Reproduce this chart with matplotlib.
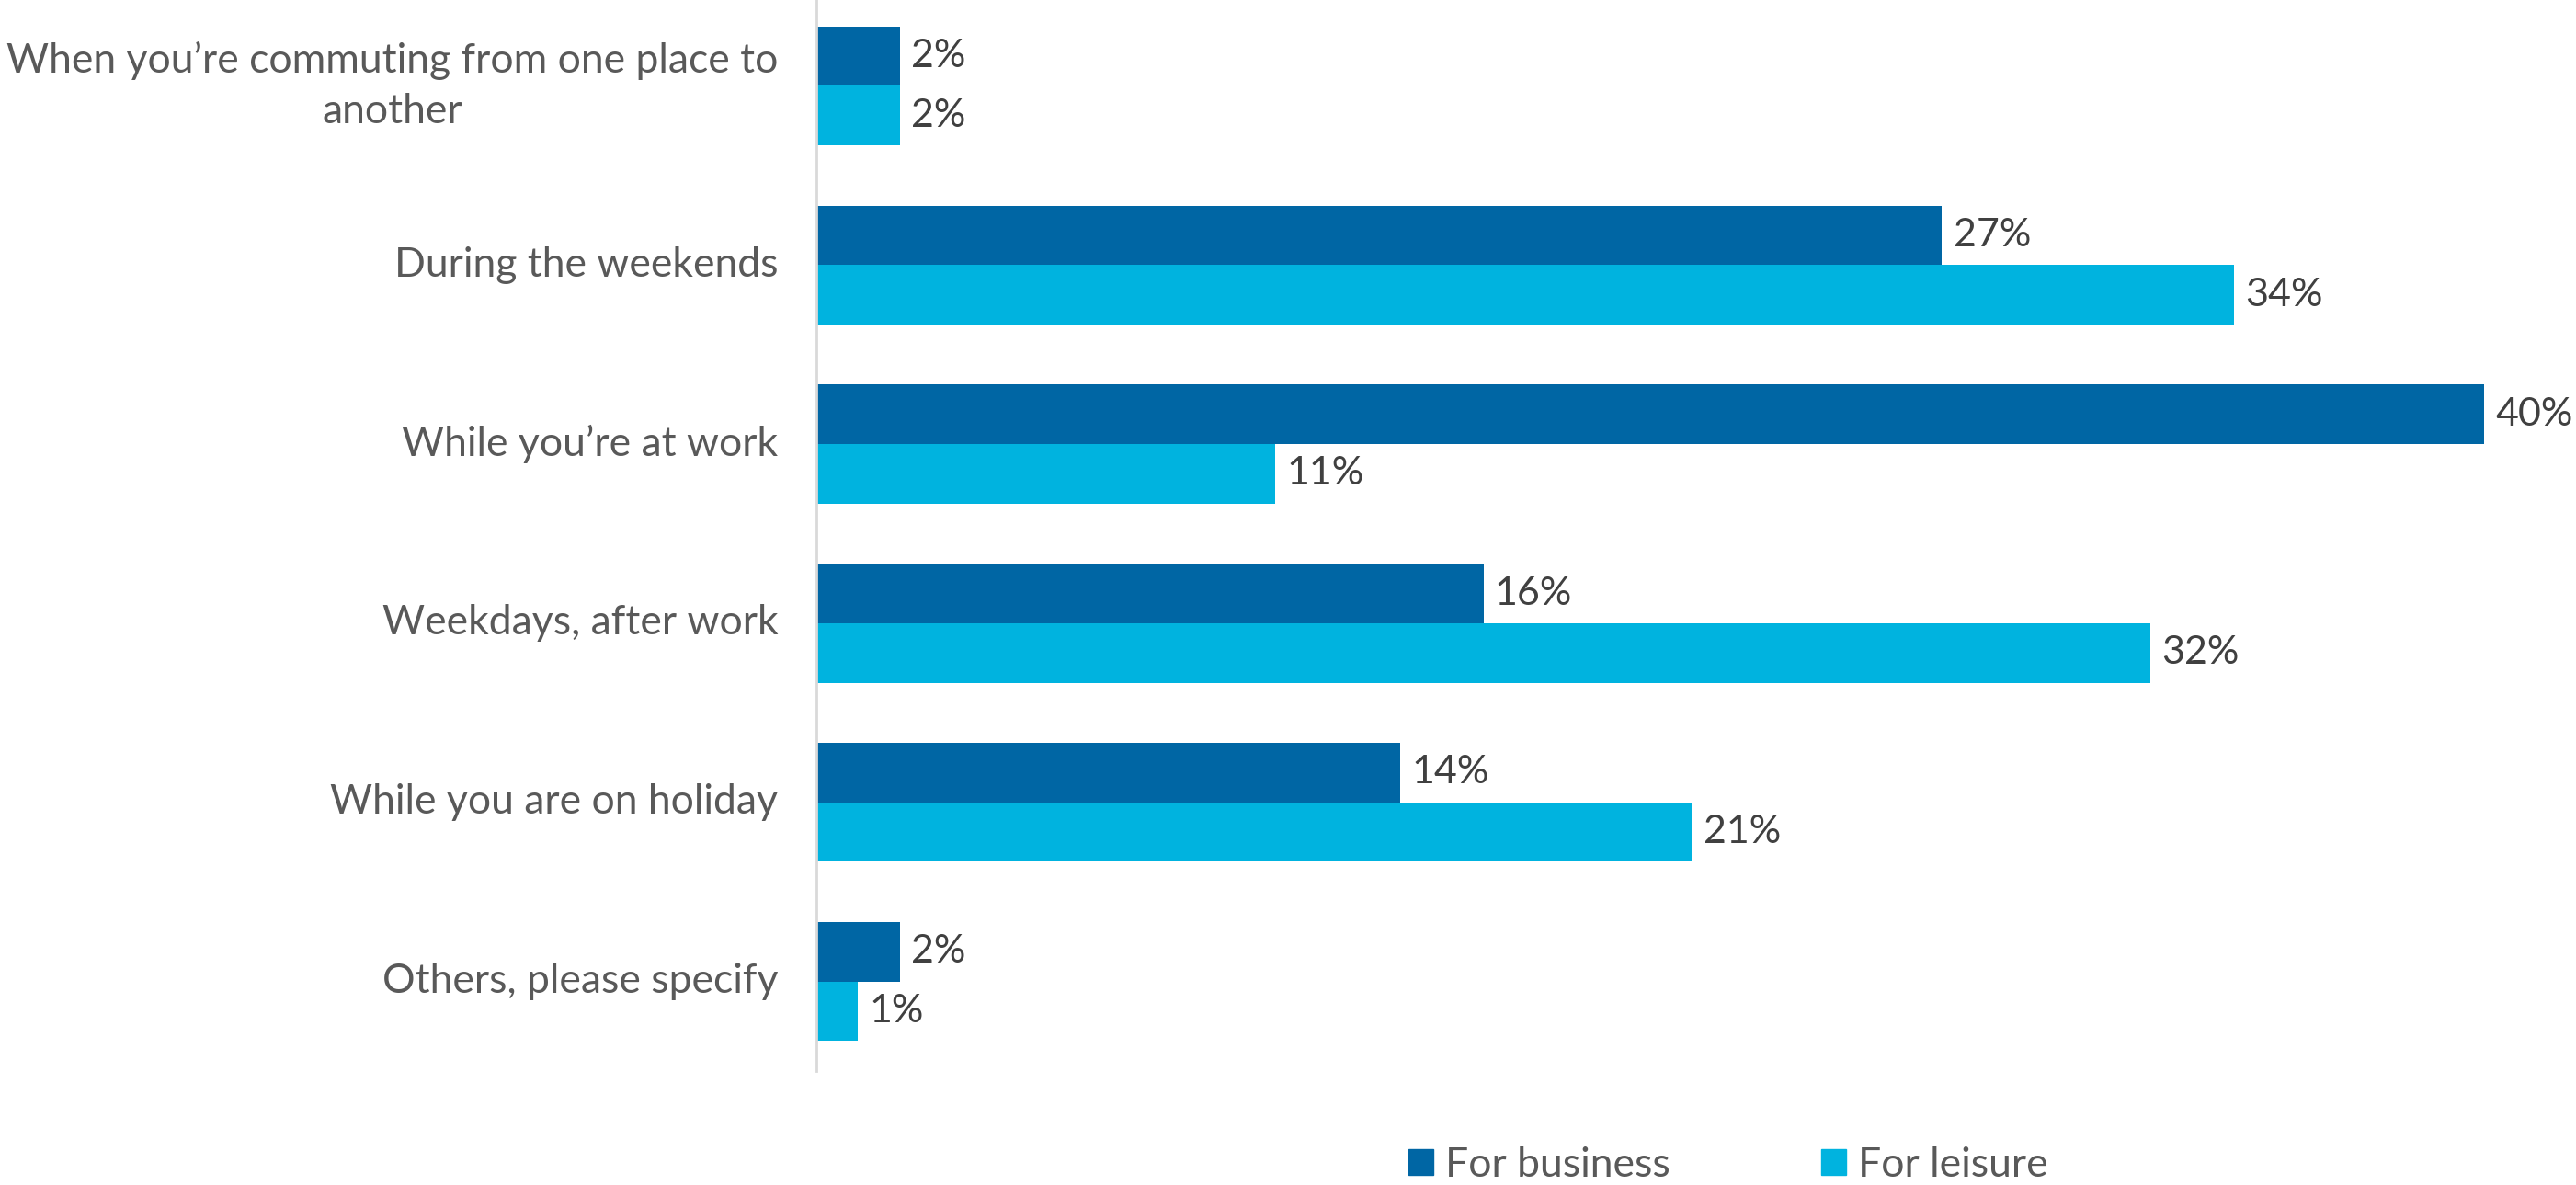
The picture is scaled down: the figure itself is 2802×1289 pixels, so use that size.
import matplotlib.pyplot as plt
from matplotlib.patches import Patch

# survey answers, top to bottom
categories = [
    "When you\u2019re commuting from one place to\nanother",
    "During the weekends",
    "While you\u2019re at work",
    "Weekdays, after work",
    "While you are on holiday",
    "Others, please specify",
]
business = [2, 27, 40, 16, 14, 2]
leisure = [2, 34, 11, 32, 21, 1]

c_business = "#0066A4"
c_leisure = "#00B3DF"
label_grey = "#595959"
value_grey = "#404040"

plt.rcParams["font.family"] = ["Lato", "DejaVu Sans"]

fig = plt.figure(figsize=(28.02, 12.89), dpi=100)
ax = fig.add_axes([888 / 2802, 124 / 1289, 1 - 888 / 2802, 1169 / 1289])

pos = list(range(len(categories)))
h = 0.332
ax.barh([p - h / 2 for p in pos], business, height=h, color=c_business)
ax.barh([p + h / 2 for p in pos], leisure, height=h, color=c_leisure)

for p, b, l in zip(pos, business, leisure):
    ax.text(b + 0.27, p - h / 2, f"{b}%", va="center", ha="left",
            fontsize=31, color=value_grey, clip_on=False)
    ax.text(l + 0.27, p + h / 2, f"{l}%", va="center", ha="left",
            fontsize=31, color=value_grey, clip_on=False)

ax.set_xlim(0, 1914 / 45.35)
ax.set_ylim(len(categories) - 0.5, -0.5)
ax.set_yticks(pos)
ax.set_yticklabels(categories, fontsize=32, color=label_grey,
                   multialignment="center", linespacing=1.45, va="center")
ax.tick_params(axis="y", length=0, pad=30)
ax.set_xticks([])

for s in ["top", "right", "bottom"]:
    ax.spines[s].set_visible(False)
ax.spines["left"].set_color("#D9D9D9")
ax.spines["left"].set_linewidth(2)

handles = [Patch(color=c_business, label="For business"),
           Patch(color=c_leisure, label="For leisure")]
fig.legend(handles=handles, loc="center", bbox_to_anchor=(0.671, 0.017), ncol=2,
           frameon=False, fontsize=32, labelcolor=label_grey,
           handlelength=0.6, handleheight=0.6, handletextpad=0.3, columnspacing=3.7)

fig.savefig("out.png", dpi=100)
